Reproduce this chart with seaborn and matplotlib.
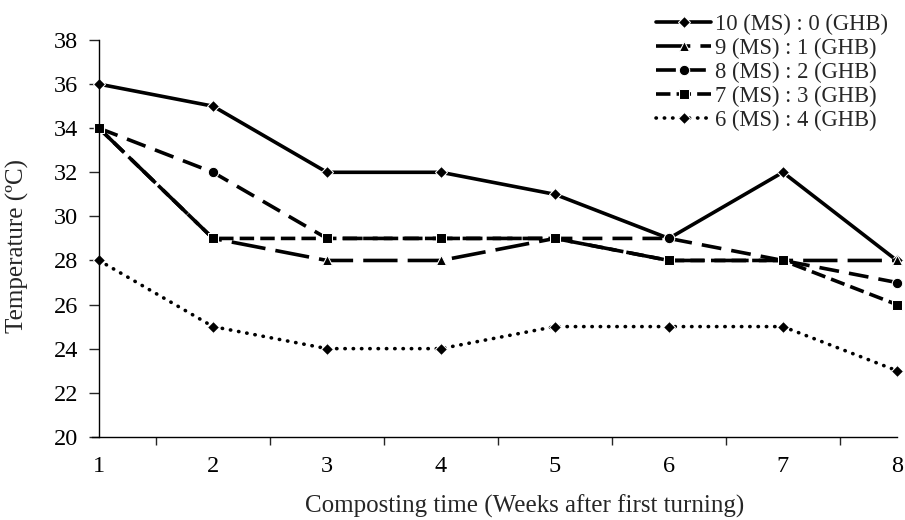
import pandas as pd
import matplotlib
matplotlib.use("Agg")
import matplotlib.pyplot as plt
import seaborn as sns

weeks = [1, 2, 3, 4, 5, 6, 7, 8]
ms10_ghb0 = [36, 35, 32, 32, 31, 29, 32, 28]
ms9_ghb1 = [34, 29, 28, 28, 29, 28, 28, 28]
ms8_ghb2 = [34, 32, 29, 29, 29, 29, 28, 27]
ms7_ghb3 = [34, 29, 29, 29, 29, 28, 28, 26]
ms6_ghb4 = [28, 25, 24, 24, 25, 25, 25, 23]
labels = ["10 (MS) : 0 (GHB)", "9 (MS) : 1 (GHB)", "8 (MS) : 2 (GHB)",
          "7 (MS) : 3 (GHB)", "6 (MS) : 4 (GHB)"]
y_ticks = [20, 22, 24, 26, 28, 30, 32, 34, 36, 38]

sns.set_style("white")
plt.rcParams['font.family'] = ['Liberation Serif', 'DejaVu Serif']

fig = plt.figure(figsize=(9.05, 5.2), dpi=100)
ax = fig.add_axes([0.1094, 0.160, 0.8816, 0.763])

series = [ms10_ghb0, ms9_ghb1, ms8_ghb2, ms7_ghb3, ms6_ghb4]
styles = [
    dict(linestyle='-', marker='D', ms=6, dash_capstyle='butt'),
    dict(linestyle=(0, (9.5, 2.8)), marker='^', ms=7, dash_capstyle='butt'),
    dict(linestyle=(0, (5.5, 2.8)), marker='o', ms=7.5, dash_capstyle='butt'),
    dict(linestyle=(0, (4, 1.7)), marker='s', ms=7.5, dash_capstyle='butt'),
    dict(linestyle=(0, (0.1, 2.2)), marker='D', ms=6.5, dash_capstyle='round'),
]
for vals, lab, st in zip(series, labels, styles):
    df = pd.DataFrame({"week": weeks, "temp": vals})
    sns.lineplot(data=df, x="week", y="temp", ax=ax, color="black", lw=2.6,
                 label=lab, **st)

ax.set_xlim(1, 8)
ax.set_ylim(20, 38)
ax.set_yticks(y_ticks)
ax.set_xticks(weeks)
ax.set_xticks([1.5, 2.5, 3.5, 4.5, 5.5, 6.5, 7.5, 8], minor=True)
ax.tick_params(axis='x', which='major', length=0, pad=14, labelsize=17.5)
ax.tick_params(axis='x', which='minor', length=6, width=1, direction='out', bottom=True)
ax.tick_params(axis='y', length=7, width=1, direction='out', left=True, labelsize=17.5, pad=8)
for s in ['top', 'right']:
    ax.spines[s].set_visible(False)
for s in ['left', 'bottom']:
    ax.spines[s].set_color('black')
    ax.spines[s].set_linewidth(1)
ax.spines['bottom'].set_bounds(0.939, 8)

ax.set_xlabel("Composting time (Weeks after first turning)", fontsize=18)
ax.set_ylabel("Temperature (ºC)", fontsize=18)
ax.xaxis.set_label_coords(0.533, -0.145)
ax.yaxis.set_label_coords(-0.088, 0.48)

leg = ax.legend(loc='upper right', bbox_to_anchor=(1.0, 1.09), frameon=False,
                fontsize=16.3, handlelength=2.45, handletextpad=0.15, labelspacing=0.13,
                borderaxespad=0)
for t in ax.get_xticklabels() + ax.get_yticklabels():
    t.set_color('black')

for l in ax.lines:
    l.set_clip_on(False)

fig.savefig("out.png", dpi=100)
